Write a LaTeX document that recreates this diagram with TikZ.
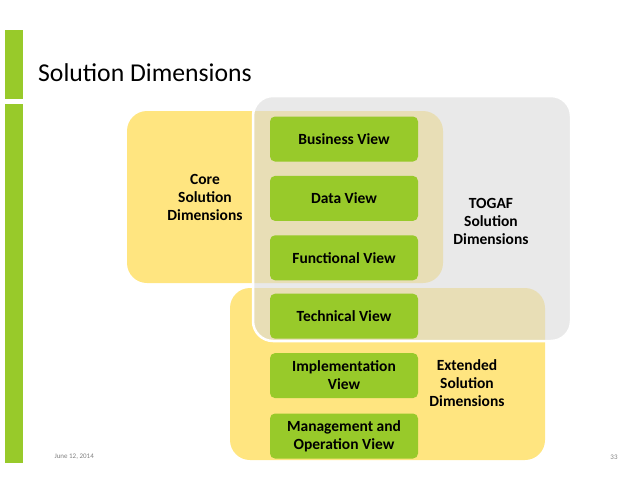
\documentclass[tikz,border=0pt]{standalone}
\usepackage{fontspec}
\setmainfont{Carlito}
\usetikzlibrary{positioning}

\definecolor{leafgreen}{RGB}{152,202,42}
\definecolor{paleyellow}{RGB}{255,229,128}
\definecolor{mistgray}{RGB}{218,218,218}

\tikzset{
    region/.style={rounded corners=20pt},
    viewbox/.style={fill=leafgreen, rounded corners=5pt, minimum width=148pt,
        minimum height=45pt, align=center, font=\bfseries\fontsize{15.5}{18}\selectfont,
        inner sep=0pt},
    dimlabel/.style={align=center, font=\bfseries\fontsize{15.5}{18}\selectfont},
    footer/.style={text=gray, font=\fontsize{7}{8}\selectfont}
}

\begin{document}
\begin{tikzpicture}[x=1pt, y=-1pt]
    \useasboundingbox (0,0) rectangle (638,493);

    % side bars and title
    \fill[leafgreen] (5,30) rectangle (23,99);
    \fill[leafgreen] (5,104) rectangle (23,463);
    \node[anchor=base west, inner sep=0pt, font=\fontsize{25.7}{30}\selectfont] (title) at (38,81) {Solution Dimensions};

    % yellow regions under the grey one
    \fill[paleyellow, region] (127,111) rectangle (443,283);
    \fill[paleyellow, region] (230,288) rectangle (545,460);
    \draw[region, fill=mistgray, fill opacity=.6, draw=white, line width=2.5pt] (253,96) rectangle (571,341);

    % the views
    \node[viewbox] (business) at (344,139) {Business View};
    \node[viewbox, below=14pt of business] (data) {Data View};
    \node[viewbox, below=14pt of data] (functional) {Functional View};
    \node[viewbox, below=13pt of functional] (technical) {Technical View};
    \node[viewbox, below=14pt of technical] (implementation) {Implementation\\View};
    \node[viewbox, below=15pt of implementation] (management) {Management and\\Operation View};

    % region labels
    \node[dimlabel] (core) at (205,197) {Core\\Solution\\Dimensions};
    \node[dimlabel] (togaf) at (491,221) {TOGAF\\Solution\\Dimensions};
    \node[dimlabel] (extended) at (467,383) {Extended\\Solution\\Dimensions};

    % footer
    \node[footer, anchor=west] (date) at (51,457) {June 12, 2014};
    \node[footer] (page) at (614,457) {33};
\end{tikzpicture}
\end{document}
